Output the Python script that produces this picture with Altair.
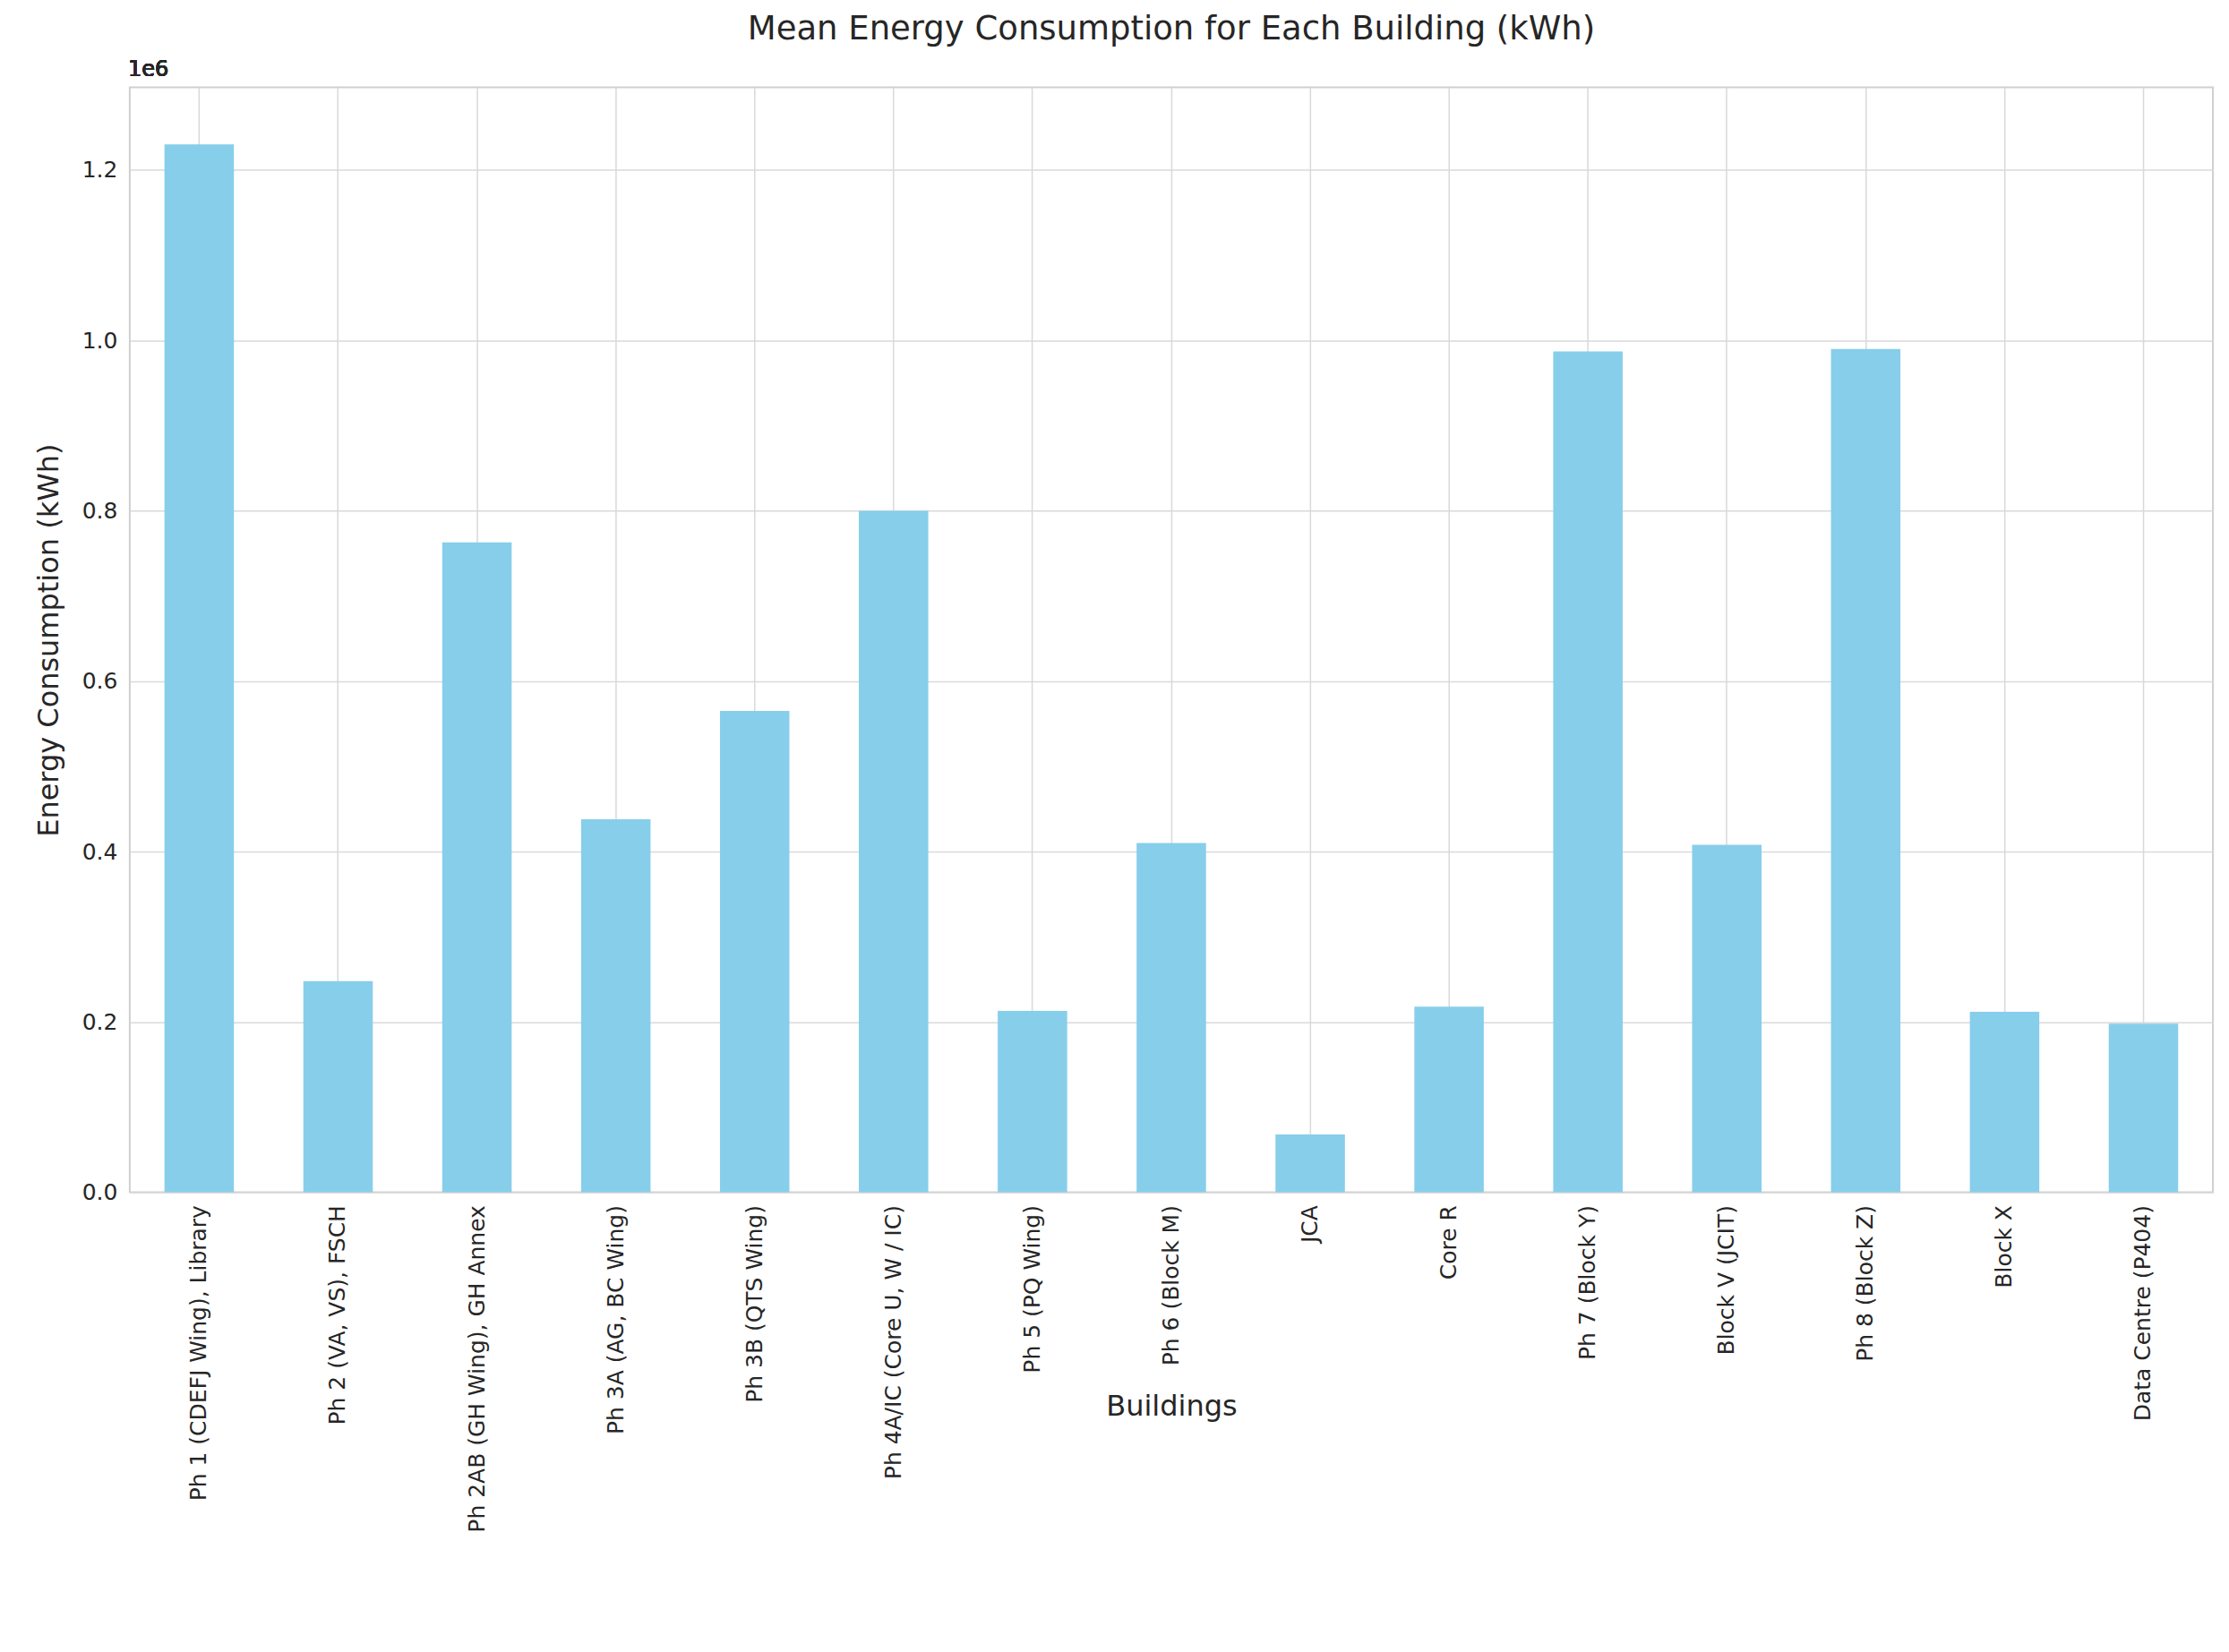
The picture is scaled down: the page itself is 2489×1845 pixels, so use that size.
import altair as alt
import pandas as pd

# Building names and mean consumption (kWh).
buildings = [
    "Ph 1 (CDEFJ Wing), Library", "Ph 2 (VA, VS), FSCH", "Ph 2AB (GH Wing), GH Annex",
    "Ph 3A (AG, BC Wing)", "Ph 3B (QTS Wing)", "Ph 4A/IC (Core U, W / IC)",
    "Ph 5 (PQ Wing)", "Ph 6 (Block M)", "JCA", "Core R", "Ph 7 (Block Y)",
    "Block V (JCIT)", "Ph 8 (Block Z)", "Block X", "Data Centre (P404)",
]
consumption = [
    1230000, 248000, 763000, 438000, 565000, 800000, 213000, 410000,
    68000, 218000, 987000, 408000, 990000, 212000, 198000,
]

df = pd.DataFrame({"building": buildings, "kwh": consumption})
font = "DejaVu Sans"

bars = alt.Chart(df).mark_bar(color="#87CEEB").encode(
    x=alt.X("building:N", sort=buildings, title="Buildings",
            scale=alt.Scale(paddingInner=0.5, paddingOuter=0.25),
            axis=alt.Axis(labelAngle=-90, bandPosition=0.5, grid=True, ticks=False,
                          labelFontSize=25, titleFontSize=32, titlePadding=24,
                          labelPadding=14, domain=False, labelLimit=0)),
    y=alt.Y("kwh:Q", title="Energy Consumption (kWh)",
            scale=alt.Scale(domain=[0, 1297000], nice=False),
            axis=alt.Axis(values=[0, 200000, 400000, 600000, 800000, 1000000, 1200000],
                          labelExpr="format(datum.value / 1000000, '.1f')",
                          labelFontSize=25, titleFontSize=32, titlePadding=20,
                          ticks=False, labelPadding=14, domain=False)),
)

exp = alt.Chart(df).mark_text(fontSize=24, font=font, align="left", baseline="bottom",
                              fontWeight="normal", color="#262626").encode(
    x=alt.value(-2), y=alt.value(-8), text=alt.value("1e6"))

chart = (bars + exp).properties(
    width=2328, height=1235,
    title=alt.TitleParams("Mean Energy Consumption for Each Building (kWh)",
                          fontSize=37, fontWeight="normal", offset=14),
).configure(font=font).configure_axis(
    gridColor="#d9d9d9", gridWidth=1.5, labelColor="#262626", titleColor="#262626",
    titleFontWeight="normal", labelFont=font, titleFont=font,
).configure_title(color="#262626", font=font).configure_view(
    stroke="#d0d0d0", strokeWidth=2,
).properties(padding={"left": 30, "top": 5, "right": 10, "bottom": 10})

chart.save("out.html", embed_options={"renderer": "svg", "actions": False})
